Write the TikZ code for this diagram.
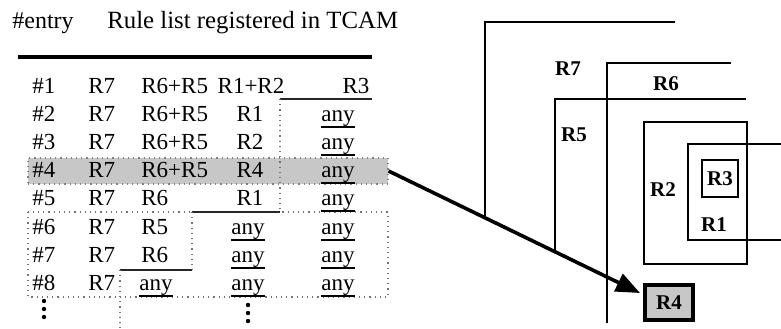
\documentclass[tikz,border=0pt]{standalone}
\usepackage{fontspec}
\setmainfont{Liberation Serif}
\usetikzlibrary{arrows.meta}
\newcommand{\ulany}{\setbox0\hbox{any}\rlap{\raisebox{\dimexpr-\dp0-0.6pt\relax}{\rule{\wd0}{0.9pt}}}any}
\begin{document}
\begin{tikzpicture}[x=0.5pt,y=-0.5pt,
  cw/.style={anchor=base west,inner sep=0pt,font=\fontsize{11.5}{13}\selectfont},
  cc/.style={anchor=base,inner sep=0pt,font=\fontsize{11.5}{13}\selectfont},
  hd/.style={anchor=base west,inner sep=0pt,font=\fontsize{12}{14}\selectfont},
  lab/.style={inner sep=0pt,font=\fontsize{10.5}{12}\selectfont\bfseries},
  reg/.style={line width=1.1pt},
  dotl/.style={draw=black!55,line width=0.6pt,dotted},
  dark/.style={draw=black!85,line width=0.9pt},
  vdot/.style={fill=black,radius=1.1pt}]
\useasboundingbox (0,0) rectangle (781,328);
% header
\node[hd] (hentry) at (12,28) {\#entry};
\node[hd,font=\fontsize{12.4}{14}\selectfont] (hlist) at (107,28) {Rule list registered in TCAM};
\draw[line width=1.6pt] (18,57) coordinate (hl0) -- (372,57) coordinate (hl1);
% highlight row 4
\node[fill=black!22,draw=black!50,dotted,line width=0.6pt,minimum width=180pt,minimum height=13pt,inner sep=0pt] (hl) at (208,171) {};
% dotted box rows 6-8
\draw[dotl] (28,212) coordinate (bx0) rectangle (388,297) coordinate (bx1);
% staircase
\draw[dark] (280,99) coordinate (sa) -- (372,99) coordinate (sb);
\draw[dotl] (sa) -- (280,212) coordinate (sc);
\draw[dark] (sc) -- (192,212) coordinate (sd);
\draw[dotl] (sd) -- (192,270) coordinate (se);
\draw[dark] (se) -- (120,270) coordinate (sf);
\draw[dotl] (sf) -- (120,328) coordinate (sg);
% rows
\foreach \i/\b in {1/93.5,2/121.5,3/149.5,4/177.5,5/205.5,6/234.5,7/262.5,8/290.5}{
  \node[cw] (n\i) at (32,\b) {\#\i};
  \node[cw] (s\i) at (88,\b) {R7};
}
\node[cw] (a1) at (141,93.5) {R6+R5};
\node[cw] (a2) at (141,121.5) {R6+R5};
\node[cw] (a3) at (141,149.5) {R6+R5};
\node[cw] (a4) at (141,177.5) {R6+R5};
\node[cw] (a5) at (141,205.5) {R6};
\node[cw] (a6) at (141,234.5) {R5};
\node[cw] (a7) at (141,262.5) {R6};
\node[cw] (a8) at (139,290.5) {\ulany};
\node[cc] (b1) at (251,93.5) {R1+R2};
\node[cc] (b2) at (250,121.5) {R1};
\node[cc] (b3) at (250,149.5) {R2};
\node[cc] (b4) at (250,177.5) {R4};
\node[cc] (b5) at (250,205.5) {R1};
\node[cc] (b6) at (248,234.5) {\ulany};
\node[cc] (b7) at (248,262.5) {\ulany};
\node[cc] (b8) at (248,290.5) {\ulany};
\node[cc] (c1) at (356,93.5) {R3};
\foreach \i/\b in {2/121.5,3/149.5,4/177.5,5/205.5,6/234.5,7/262.5,8/290.5}{
  \node[cc] (c\i) at (338,\b) {\ulany};
}
% vertical dots
\fill[vdot] (44,301) circle; \fill[vdot] (44,309) circle; \fill[vdot] (44,317) circle;
\fill[vdot] (248,305) circle; \fill[vdot] (248,313) circle; \fill[vdot] (248,321) circle;
% right figure
\draw[reg] (675,22) -- (485,22) -- (485,218) coordinate (r7e);
\draw[reg] (731,63) -- (607,63) -- (607,323);
\draw[reg] (746,99) -- (555,99) -- (555,252) coordinate (r5e);
\draw[reg] (644,122) rectangle (747,264);
\draw[reg] (781,144) -- (688,144) -- (688,240) -- (781,240);
\node[draw,line width=1.1pt,minimum width=18pt,minimum height=18.5pt,inner sep=0pt,font=\fontsize{10.5}{12}\selectfont\bfseries] (R3) at (720,178.5) {R3};
\node[draw,line width=1.6pt,fill=black!22,minimum width=24pt,minimum height=17.5pt,inner sep=0pt,font=\fontsize{10.5}{12}\selectfont\bfseries] (R4) at (669,302.5) {R4};
\node[lab] (L7) at (568,69) {R7};
\node[lab] (L6) at (666,84) {R6};
\node[lab] (L5) at (574,135) {R5};
\node[lab] (L2) at (663,190) {R2};
\node[lab] (L1) at (714,225) {R1};
\coordinate (tip) at (640,293);
\draw[line width=1.8pt,-{Triangle[length=12pt,width=9.5pt]}] (hl.east) -- (tip);
\end{tikzpicture}
\end{document}
